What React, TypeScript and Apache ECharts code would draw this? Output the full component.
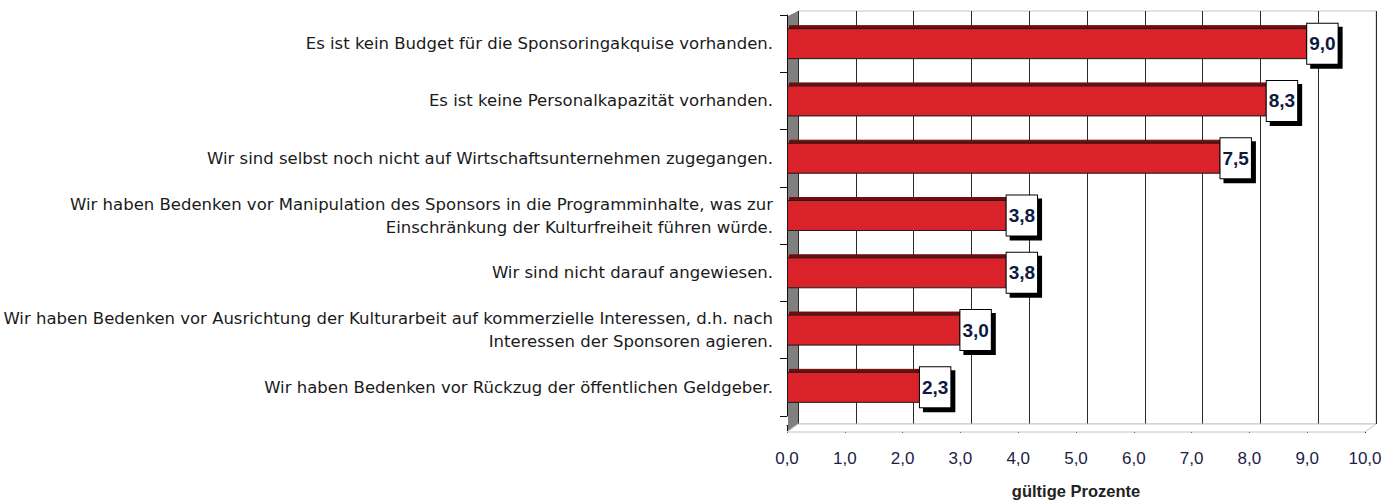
import React, { useEffect, useRef } from "react";
import * as echarts from "echarts";

const categories = [
  "Es ist kein Budget für die Sponsoringakquise vorhanden.",
  "Es ist keine Personalkapazität vorhanden.",
  "Wir sind selbst noch nicht auf Wirtschaftsunternehmen zugegangen.",
  "Wir haben Bedenken vor Manipulation des Sponsors in die Programminhalte, was zur\nEinschränkung der Kulturfreiheit führen würde.",
  "Wir sind nicht darauf angewiesen.",
  "Wir haben Bedenken vor Ausrichtung der Kulturarbeit auf kommerzielle Interessen, d.h. nach\nInteressen der Sponsoren agieren.",
  "Wir haben Bedenken vor Rückzug der öffentlichen Geldgeber.",
];
const values = [9.0, 8.3, 7.5, 3.8, 3.8, 3.0, 2.3];
const axisMin = 0;
const axisMax = 10;
const axisInterval = 1;
const axisTitle = "gültige Prozente";

const NARROW = "'Liberation Sans', Arial, sans-serif";
const fmt = (v: number) => v.toFixed(1).replace(".", ",");

export default function App() {
  const ref = useRef<HTMLDivElement>(null);
  useEffect(() => {
    const chart = echarts.init(ref.current!, null, { renderer: "svg" });
    chart.setOption({
      animation: false,
      backgroundColor: "#ffffff",
      grid: [
        { left: 787, right: 28, top: 15, bottom: 81, containLabel: false },
        {
          left: 798,
          right: 17,
          top: 11,
          bottom: 80,
          show: true,
          backgroundColor: "#ffffff",
          borderColor: "#c4c4c4",
          borderWidth: 1,
          z: 0,
        },
      ],
      xAxis: [
        {
          type: "value",
          gridIndex: 0,
          min: axisMin,
          max: axisMax,
          interval: axisInterval,
          offset: 9,
          axisLine: { show: true, lineStyle: { color: "#111", width: 1 } },
          axisTick: { show: true, length: 8, lineStyle: { color: "#111" } },
          splitLine: { show: false },
          axisLabel: {
            formatter: (v: number) => fmt(v),
            fontFamily: NARROW,
            fontSize: 17,
            color: "#1c1c48",
            margin: 25,
          },
          name: axisTitle,
          nameLocation: "middle",
          nameGap: 57,
          nameTextStyle: {
            fontFamily: NARROW,
            fontSize: 16.5,
            fontWeight: "bold",
            color: "#222",
          },
        },
        {
          type: "value",
          gridIndex: 1,
          min: axisMin,
          max: axisMax,
          interval: axisInterval,
          axisLine: { show: false },
          axisTick: { show: false },
          axisLabel: { show: false },
          splitLine: { show: true, lineStyle: { color: "#2a2a2a", width: 1 } },
        },
      ],
      yAxis: [
        {
          type: "category",
          gridIndex: 0,
          data: categories,
          inverse: true,
          axisLine: { show: true, lineStyle: { color: "#111", width: 1 } },
          axisTick: { show: true, length: 7, lineStyle: { color: "#111" } },
          axisLabel: {
            fontFamily: "'DejaVu Sans', sans-serif",
            fontSize: 16.5,
            lineHeight: 23,
            color: "#1a1a1a",
            margin: 14,
            align: "right",
          },
        },
        {
          type: "value",
          gridIndex: 1,
          show: false,
        },
      ],
      graphic: [
        {
          type: "polygon",
          z: 1,
          shape: { points: [[788, 16], [798, 11], [798, 424], [788, 431]] },
          style: { fill: "#808080" },
        },
        {
          type: "polygon",
          z: 1,
          shape: { points: [[798, 424], [1376, 424], [1365, 432], [787, 432]] },
          style: { fill: "#ffffff", stroke: "#c4c4c4", lineWidth: 1 },
        },
      ],
      series: [
        {
          type: "bar",
          xAxisIndex: 0,
          yAxisIndex: 0,
          data: values,
          barWidth: 31,
          z: 3,
          itemStyle: {
            color: "#d92229",
            borderColor: "#1a1a1a",
            borderWidth: 1,
            shadowColor: "#6e0c0c",
            shadowOffsetX: 2,
            shadowOffsetY: -3,
            shadowBlur: 0,
          },
          label: {
            show: true,
            position: "right",
            distance: 0,
            formatter: (p: any) => fmt(p.value),
            fontFamily: NARROW,
            fontSize: 19,
            fontWeight: "bold",
            color: "#0d1a40",
            lineHeight: 22,
            backgroundColor: "#ffffff",
            borderColor: "#000",
            borderWidth: 1,
            padding: [9, 2],
            shadowColor: "#000",
            shadowOffsetX: 4,
            shadowOffsetY: 4,
            shadowBlur: 0,
          },
        },
      ],
    });
    return () => chart.dispose();
  }, []);
  return (
    <div
      ref={ref}
      style={{ position: "fixed", left: 0, top: 0, width: 1393, height: 504 }}
    />
  );
}
